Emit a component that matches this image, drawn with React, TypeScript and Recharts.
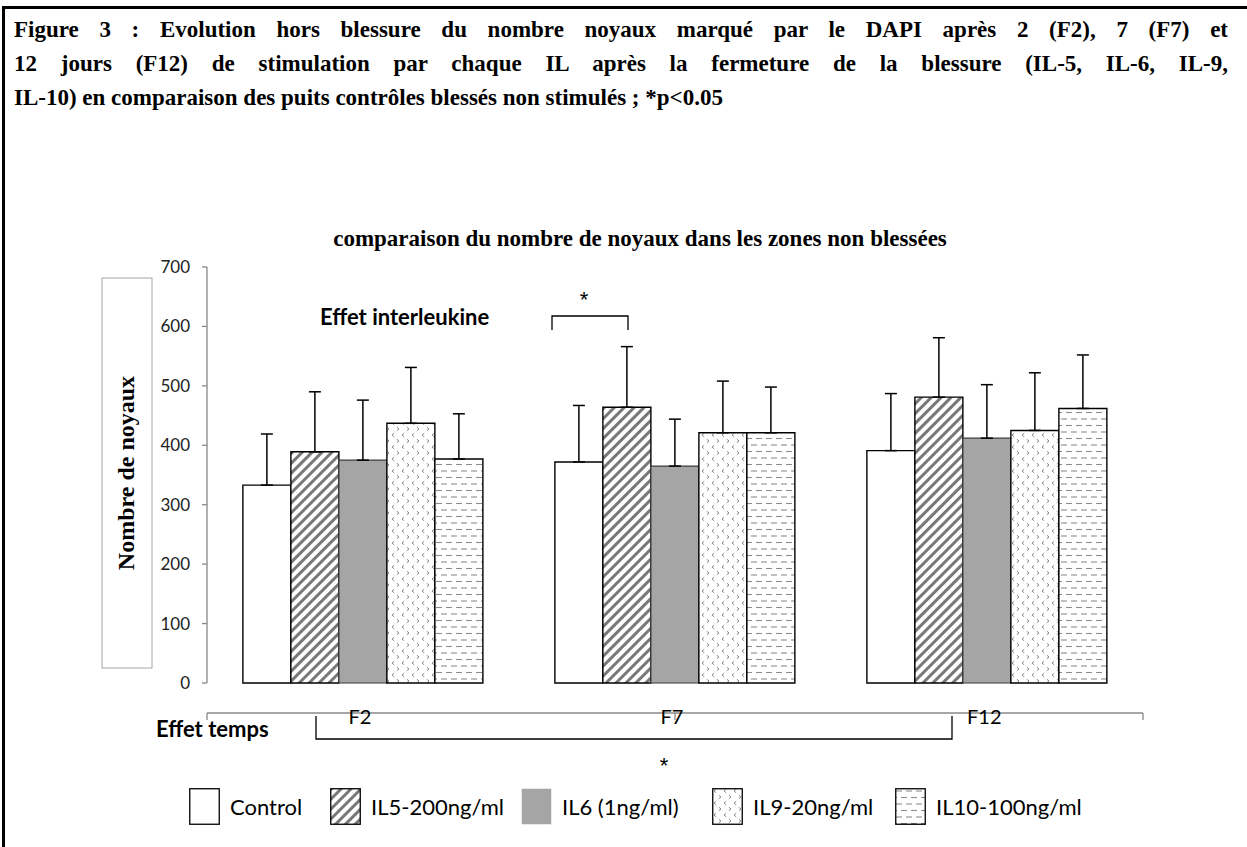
import React from 'react';
import { BarChart, Bar, XAxis, YAxis, ErrorBar, Legend } from 'recharts';

// ---------- data ----------
const categories = ['F2', 'F7', 'F12'];
const seriesKeys = ['control', 'il5', 'il6', 'il9', 'il10'];
const seriesNames = ['Control', 'IL5-200ng/ml', 'IL6 (1ng/ml)', 'IL9-20ng/ml', 'IL10-100ng/ml'];
const controlMean = [333, 372, 391];
const controlErr = [86, 95, 96];
const il5Mean = [389, 464, 481];
const il5Err = [101, 102, 100];
const il6Mean = [375, 365, 412];
const il6Err = [101, 79, 90];
const il9Mean = [437, 421, 425];
const il9Err = [94, 87, 97];
const il10Mean = [377, 421, 462];
const il10Err = [76, 77, 90];
const yTicks = [0, 100, 200, 300, 400, 500, 600, 700];
const separatorTicks = [0, 1, 2, 3];

const captionLines = [
  'Figure 3 : Evolution hors blessure du nombre noyaux marqué par le DAPI après 2 (F2), 7 (F7) et',
  '12 jours (F12) de stimulation par chaque IL après la fermeture de la blessure (IL-5, IL-6, IL-9,',
  'IL-10) en comparaison des puits contrôles blessés non stimulés ; *p<0.05',
];
const chartTitle = 'comparaison du nombre de noyaux dans les zones non blessées';
const yLabel = 'Nombre de noyaux';

const data = categories.map((c, i) => ({
  cat: c,
  control: controlMean[i],
  controlE: [0, controlErr[i]],
  il5: il5Mean[i],
  il5E: [0, il5Err[i]],
  il6: il6Mean[i],
  il6E: [0, il6Err[i]],
  il9: il9Mean[i],
  il9E: [0, il9Err[i]],
  il10: il10Mean[i],
  il10E: [0, il10Err[i]],
}));

const SANS = 'Lato, "Open Sans", sans-serif';
const SERIF = '"Liberation Serif", "Times New Roman", serif';
const STAR_FONT = '"Liberation Sans", Arial, sans-serif';

// legend layout (left edge of each swatch)
const legendSwatchLeft = [189, 330, 521, 712, 895];
const swatchFill = ['#ffffff', 'url(#patIL5)', '#a5a5a5', 'url(#patIL9)', 'url(#patIL10)'];
const swatchStroke = ['#000', '#000', 'none', '#000', '#000'];

const renderLegend = (props: any) => {
  const payload = [...(props.payload || [])].sort(
    (a: any, b: any) => seriesKeys.indexOf(a.dataKey) - seriesKeys.indexOf(b.dataKey)
  );
  return (
    <div style={{ position: 'relative', width: 1247, height: 38 }}>
      {payload.map((p: any) => {
        const i = seriesKeys.indexOf(p.dataKey);
        return (
          <div
            key={p.dataKey}
            style={{ position: 'absolute', left: legendSwatchLeft[i], top: 0, display: 'flex', alignItems: 'center', height: 37 }}
          >
            <svg width={31} height={37} style={{ display: 'block' }}>
              <rect x={0.75} y={0.75} width={29.5} height={35.5} fill={swatchFill[i]} stroke={swatchStroke[i]} strokeWidth={1.3} />
            </svg>
            <span style={{ marginLeft: 10, fontFamily: SANS, fontSize: 22, color: '#000', whiteSpace: 'nowrap' }}>{p.value}</span>
          </div>
        );
      })}
    </div>
  );
};

export default function App() {
  return (
    <div style={{ position: 'absolute', left: 0, top: 0, width: 1247, height: 847, background: '#fff', overflow: 'hidden' }}>
      {/* frame */}
      <div style={{ position: 'absolute', left: 2, top: 6, width: 1300, height: 900, borderLeft: '3px solid #000', borderTop: '3px solid #000' }} />
      {/* caption */}
      <div
        style={{
          position: 'absolute',
          left: 14,
          top: 13,
          width: 1214,
          fontFamily: SERIF,
          fontWeight: 'bold',
          fontSize: 23,
          lineHeight: '34px',
          color: '#000',
        }}
      >
        {captionLines.map((l, i) => (
          <div
            key={i}
            style={{
              whiteSpace: i < 2 ? 'normal' : 'nowrap',
              textAlign: i < 2 ? 'justify' : 'left',
              textAlignLast: i < 2 ? 'justify' : 'left',
            } as any}
          >
            {l}
          </div>
        ))}
      </div>

      <div style={{ position: 'absolute', left: 0, top: 0 }}>
        <BarChart
          width={1247}
          height={847}
          data={data}
          margin={{ top: 267, right: 104, bottom: 134, left: 147 }}
          barCategoryGap="11.5%"
          barGap={0}
        >
          <defs>
            <pattern id="patIL5" patternUnits="userSpaceOnUse" width={7} height={7} patternTransform="rotate(45)">
              <rect x={0} y={0} width={7} height={7} fill="#fff" />
              <rect x={0} y={0} width={3} height={7} fill="#787878" />
            </pattern>
            <pattern id="patIL9" patternUnits="userSpaceOnUse" width={10} height={12}>
              <rect x={0} y={0} width={10} height={12} fill="#fff" />
              <path d="M4.2,1.2 L2,3 L4.2,4.8" fill="none" stroke="#8c8c8c" strokeWidth={1} />
              <path d="M6.8,7.2 L9,9 L6.8,10.8" fill="none" stroke="#8c8c8c" strokeWidth={1} />
            </pattern>
            <pattern id="patIL10" patternUnits="userSpaceOnUse" width={10} height={13}>
              <rect x={0} y={0} width={10} height={13} fill="#fff" />
              <line x1={1} y1={3} x2={7} y2={3} stroke="#8c8c8c" strokeWidth={1.1} />
              <line x1={-4} y1={9.5} x2={2} y2={9.5} stroke="#8c8c8c" strokeWidth={1.1} />
              <line x1={6} y1={9.5} x2={12} y2={9.5} stroke="#8c8c8c" strokeWidth={1.1} />
            </pattern>
          </defs>
          <XAxis dataKey="cat" hide />
          <XAxis
            xAxisId="sep"
            type="number"
            domain={[0, 3]}
            ticks={separatorTicks}
            tickFormatter={() => ''}
            tickSize={7}
            stroke="#888888"
            strokeWidth={1.3}
            height={30}
            allowDataOverflow
          />
          <YAxis
            domain={[0, 700]}
            ticks={yTicks}
            width={60}
            tickSize={5}
            tickMargin={12}
            stroke="#888888"
            strokeWidth={1.3}
            tick={{ fontFamily: SANS, fontSize: 17, fill: '#222' }}
            interval={0}
          />
          <Legend
            content={renderLegend}
            layout="horizontal"
            verticalAlign="middle"
            align="center"
            wrapperStyle={{ position: 'absolute', left: 0, top: 788, width: 1247, height: 38 }}
          />
          <Bar dataKey="control" name={seriesNames[0]} fill="#ffffff" stroke="#000" strokeWidth={1.4} isAnimationActive={false}>
            <ErrorBar dataKey="controlE" width={6} stroke="#000" strokeWidth={1.5} direction="y" />
          </Bar>
          <Bar dataKey="il5" name={seriesNames[1]} fill="url(#patIL5)" stroke="#000" strokeWidth={1.4} isAnimationActive={false}>
            <ErrorBar dataKey="il5E" width={6} stroke="#000" strokeWidth={1.5} direction="y" />
          </Bar>
          <Bar dataKey="il6" name={seriesNames[2]} fill="#a5a5a5" stroke="#3a3a3a" strokeWidth={1.2} isAnimationActive={false}>
            <ErrorBar dataKey="il6E" width={6} stroke="#000" strokeWidth={1.5} direction="y" />
          </Bar>
          <Bar dataKey="il9" name={seriesNames[3]} fill="url(#patIL9)" stroke="#000" strokeWidth={1.4} isAnimationActive={false}>
            <ErrorBar dataKey="il9E" width={6} stroke="#000" strokeWidth={1.5} direction="y" />
          </Bar>
          <Bar dataKey="il10" name={seriesNames[4]} fill="url(#patIL10)" stroke="#000" strokeWidth={1.4} isAnimationActive={false}>
            <ErrorBar dataKey="il10E" width={6} stroke="#000" strokeWidth={1.5} direction="y" />
          </Bar>
        </BarChart>
      </div>

      {/* annotations */}
      <svg width={1247} height={847} style={{ position: 'absolute', left: 0, top: 0, pointerEvents: 'none' }}>
        <text x={640} y={238} textAnchor="middle" dominantBaseline="central" fontFamily={SERIF} fontWeight="bold" fontSize={23} fill="#000">
          {chartTitle}
        </text>
        <rect x={102} y={278} width={50} height={390} fill="#fff" stroke="#a6a6a6" strokeWidth={1} />
        <text
          x={126}
          y={473}
          transform="rotate(-90 126 473)"
          textAnchor="middle"
          dominantBaseline="central"
          fontFamily={SERIF}
          fontWeight="bold"
          fontSize={24}
          fill="#000"
        >
          {yLabel}
        </text>
        <text x={320} y={316} dominantBaseline="central" fontFamily={SANS} fontWeight="bold" fontSize={22} fill="#000">
          Effet interleukine
        </text>
        <text x={584} y={307} textAnchor="middle" fontFamily={STAR_FONT} fontSize={22} fill="#000">*</text>
        <path d="M552,330 V316 H628 V330" fill="none" stroke="#000" strokeWidth={1.3} />

        <text x={156} y={728} dominantBaseline="central" fontFamily={SANS} fontWeight="bold" fontSize={22} fill="#000">
          Effet temps
        </text>
        <path d="M316,716 V739 H952 V716" fill="none" stroke="#000" strokeWidth={1.3} />
        <text x={360} y={716} textAnchor="middle" dominantBaseline="central" fontFamily={SANS} fontSize={20} fill="#000">F2</text>
        <text x={672} y={716} textAnchor="middle" dominantBaseline="central" fontFamily={SANS} fontSize={20} fill="#000">F7</text>
        <text x={967} y={716} dominantBaseline="central" fontFamily={SANS} fontSize={20} fill="#000">F12</text>
        <text x={664} y={773} textAnchor="middle" fontFamily={STAR_FONT} fontSize={22} fill="#000">*</text>
      </svg>
    </div>
  );
}
